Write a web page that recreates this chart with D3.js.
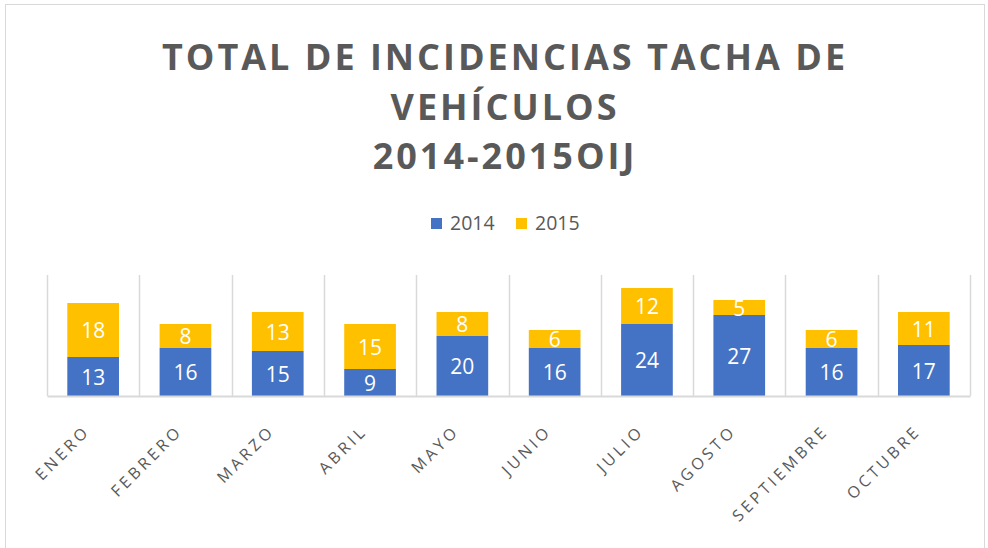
<!DOCTYPE html>
<html>
<head>
<meta charset="utf-8">
<script src="https://cdn.jsdelivr.net/npm/d3@7"></script>
<style>
  body { margin: 0; background: #fff; }
  svg { display: block; }
</style>
</head>
<body>
<div id="viz"></div>
<script>
/* stacked bars, incidencias tacha de vehiculos 2014-2015 */

var months = ['ENERO', 'FEBRERO', 'MARZO', 'ABRIL', 'MAYO', 'JUNIO', 'JULIO', 'AGOSTO', 'SEPTIEMBRE', 'OCTUBRE'];
var series = ['2014', '2015'];
var values2014 = [13, 16, 15, 9, 20, 16, 24, 27, 16, 17];
var values2015 = [18, 8, 13, 15, 8, 6, 12, 5, 6, 11];
var titleLines = ['TOTAL DE INCIDENCIAS TACHA DE', 'VEHÍCULOS', '2014-2015OIJ'];

var width = 988,
    height = 548,
    margin = { top: 276, right: 18, bottom: 152, left: 47 },
    colors = ['#4472c4', '#ffc000'],
    textColor = '#595959',
    font = '"Open Sans", "Noto Sans", sans-serif';

var svg = d3.select('#viz').append('svg')
    .attr('width', width)
    .attr('height', height);

// chart border
svg.append('rect')
    .attr('x', 5.5).attr('y', 4.5)
    .attr('width', width - 9).attr('height', height - 4)
    .attr('fill', '#fff')
    .attr('stroke', '#d9d9d9');

// title
svg.append('g').selectAll('text')
    .data(titleLines)
    .enter().append('text')
      .attr('x', 505)
      .attr('y', function(d, i) { return 70 + i * 49.5; })
      .attr('text-anchor', 'middle')
      .attr('fill', textColor)
      .style('font-family', font)
      .style('font-weight', 'bold')
      .style('font-size', '36px')
      .style('letter-spacing', '3px')
      .text(function(d) { return d; });

// legend
var legend = svg.append('g').selectAll('g')
    .data(series)
    .enter().append('g')
      .attr('transform', function(d, i) { return 'translate(' + (431 + i * 85) + ',218)'; });
legend.append('rect')
    .attr('width', 11).attr('height', 11)
    .attr('fill', function(d, i) { return colors[i]; });
legend.append('text')
    .attr('x', 19).attr('y', 12)
    .attr('fill', textColor)
    .style('font-family', font)
    .style('font-size', '19.5px')
    .text(function(d) { return d; });

var plotW = width - margin.left - margin.right,
    plotH = height - margin.top - margin.bottom;

var xScale = d3.scaleBand()
    .domain(months)
    .range([0, plotW])
    .paddingInner(0.44)
    .paddingOuter(0.22);

var yScale = d3.scaleLinear()
    .domain([0, 40])
    .range([plotH, 0]);

var plot = svg.append('g')
    .attr('transform', 'translate(' + margin.left + ',' + margin.top + ')');

// category separators
var step = plotW / months.length;
plot.append('g').selectAll('line')
    .data(d3.range(months.length + 1))
    .enter().append('line')
      .attr('x1', function(d) { return Math.round(d * step) + 0.5; })
      .attr('x2', function(d) { return Math.round(d * step) + 0.5; })
      .attr('y1', -1).attr('y2', plotH)
      .attr('stroke', '#d9d9d9')
      .attr('stroke-width', 1.5);

var stackData = months.map(function(m, i) {
  return { month: m, '2014': values2014[i], '2015': values2015[i] };
});
var stacked = d3.stack().keys(series)(stackData);

var layers = plot.append('g').selectAll('g')
    .data(stacked)
    .enter().append('g')
      .attr('fill', function(d, i) { return colors[i]; });

layers.selectAll('rect')
    .data(function(d) { return d; })
    .enter().append('rect')
      .attr('x', function(d) { return xScale(d.data.month); })
      .attr('width', xScale.bandwidth())
      .attr('y', function(d) { return yScale(d[1]); })
      .attr('height', function(d) { return yScale(d[0]) - yScale(d[1]); });

layers.selectAll('text')
    .data(function(d) { return d; })
    .enter().append('text')
      .attr('x', function(d) { return xScale(d.data.month) + xScale.bandwidth() / 2; })
      .attr('y', function(d) { return (yScale(d[0]) + yScale(d[1])) / 2 + 8; })
      .attr('text-anchor', 'middle')
      .attr('fill', '#fff')
      .style('font-family', font)
      .style('font-size', '21px')
      .text(function(d) { return d[1] - d[0]; });

// x axis
var xAxis = d3.axisBottom(xScale).tickSize(0).tickPadding(0);
var xGuide = plot.append('g')
    .attr('transform', 'translate(0,' + plotH + ')')
    .call(xAxis);
xGuide.select('.domain')
    .attr('stroke', '#d9d9d9')
    .attr('stroke-width', 2);
xGuide.selectAll('text')
    .attr('fill', textColor)
    .style('font-family', font)
    .style('font-size', '16px')
    .style('letter-spacing', '3.5px')
    .attr('text-anchor', 'end')
    .attr('dy', 0)
    .attr('transform', 'translate(-2,36) rotate(-45)');
</script>
</body>
</html>
